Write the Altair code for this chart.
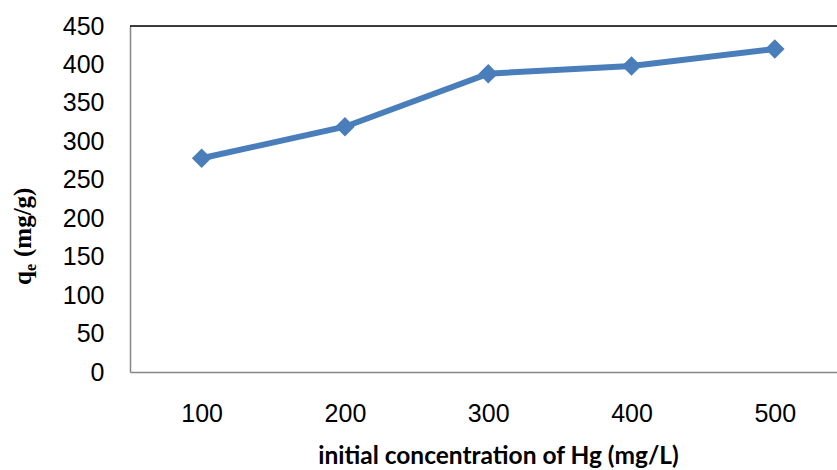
import altair as alt
import pandas as pd

# Hg uptake at increasing initial concentration
concentration = [100, 200, 300, 400, 500]
qe = [278, 319, 388, 398, 420]

df = pd.DataFrame({"conc": concentration, "qe": qe})

W, H = 707, 346
BLUE = "#4A7EBB"
AXIS_GREY = "#868686"

x = alt.X(
    "conc:Q",
    scale=alt.Scale(domain=[50, 543.4], nice=False, zero=False),
    axis=alt.Axis(
        values=concentration,
        title="initial concentration of Hg (mg/L)",
        titleFont="Lato",
        titleFontSize=24.5,
        titleFontWeight="bold",
        titleColor="black",
        titleX=368,
        titleY=91,
        titleBaseline="alphabetic",
        titleAlign="center",
        labelFont="Liberation Sans",
        labelFontSize=25,
        labelColor="black",
        labelPadding=29,
        ticks=False,
        grid=False,
        domainColor=AXIS_GREY,
        domainWidth=1.5,
    ),
)
y = alt.Y(
    "qe:Q",
    scale=alt.Scale(domain=[0, 450], nice=False),
    axis=alt.Axis(
        values=list(range(0, 451, 50)),
        title=None,
        labelFont="Liberation Sans",
        labelFontSize=25,
        labelColor="black",
        labelPadding=26,
        ticks=False,
        grid=False,
        domainColor=AXIS_GREY,
        domainWidth=1.5,
    ),
)

line = alt.Chart(df).mark_line(
    color=BLUE, strokeWidth=6,
    point=alt.OverlayMarkDef(shape="diamond", size=380, color=BLUE, filled=True, opacity=1),
).encode(x=x, y=y)

one = pd.DataFrame({"k": [0]})

top_border = alt.Chart(one).mark_rule(color="black", strokeWidth=1.5).encode(
    x=alt.value(0), x2=alt.value(W), y=alt.value(0)
)

serif = "Liberation Serif"
ylab_q = alt.Chart(one).mark_text(
    text="q", font=serif, fontWeight="bold", fontSize=25, angle=270,
    align="left", baseline="alphabetic", color="black"
).encode(x=alt.value(-99), y=alt.value(259))
ylab_e = alt.Chart(one).mark_text(
    text="e", font=serif, fontWeight="bold", fontSize=16, angle=270,
    align="left", baseline="alphabetic", color="black"
).encode(x=alt.value(-94), y=alt.value(245))
ylab_unit = alt.Chart(one).mark_text(
    text="(mg/g)", font=serif, fontWeight="bold", fontSize=25, angle=270,
    align="left", baseline="alphabetic", color="black"
).encode(x=alt.value(-99), y=alt.value(231))

chart = alt.layer(line, top_border, ylab_q, ylab_e, ylab_unit).properties(
    width=W, height=H,
    autosize=alt.AutoSizeParams(type="none"),
    padding={"left": 130, "top": 26, "right": 0, "bottom": 98},
).configure_view(stroke=None).configure(background="white")

chart.save("out.html", embed_options={"renderer": "svg", "actions": False})
